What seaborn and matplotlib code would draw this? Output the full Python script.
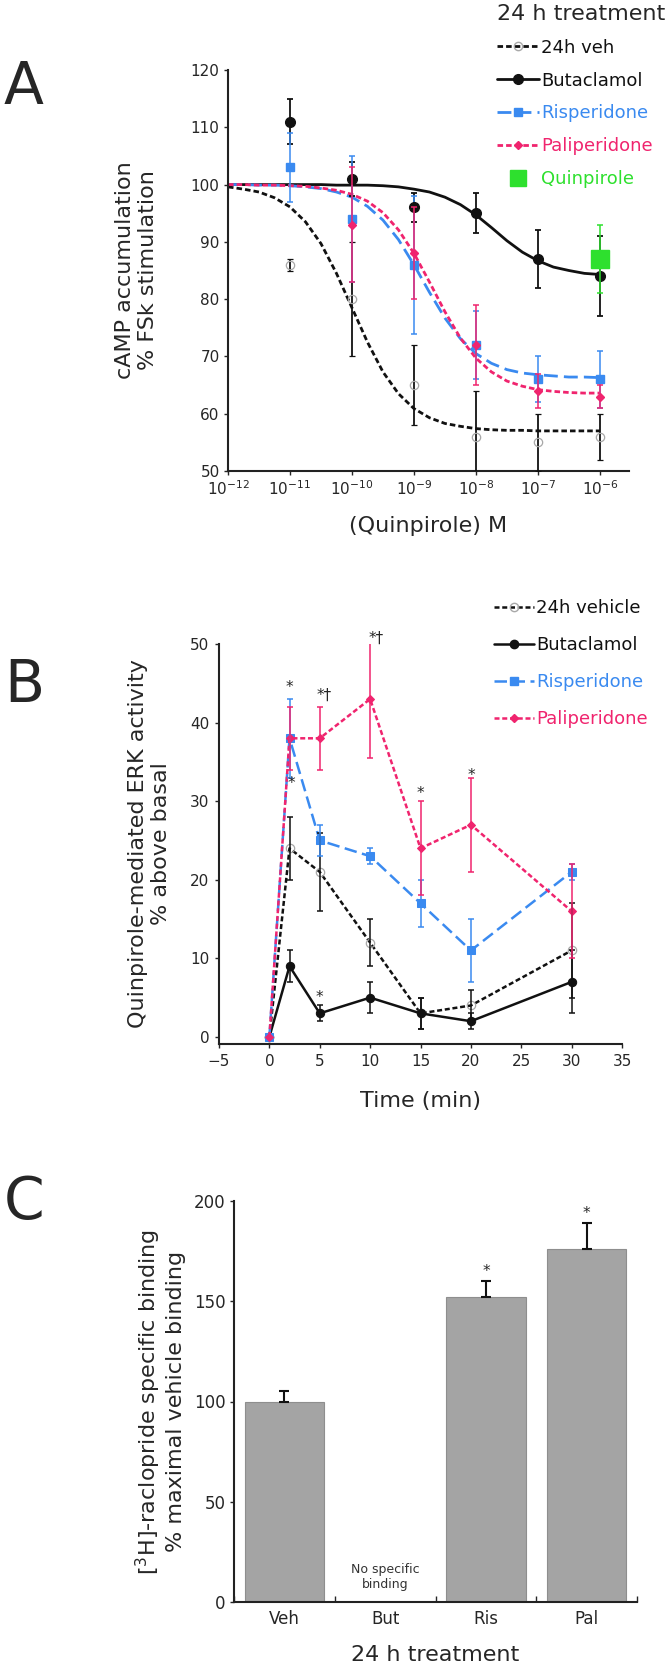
import numpy as np
import pandas as pd
import matplotlib
matplotlib.use("Agg")
import matplotlib.pyplot as plt
from matplotlib.lines import Line2D
from matplotlib.ticker import NullLocator
import seaborn as sns

# colours
BLACK = "#111111"
BLUE = "#3a8af0"
PINK = "#f0246e"
GREEN = "#2ee02e"
GREY_PT = "#a8a8a8"
BAR_GREY = "#a4a4a4"

# ---- Panel A: cAMP accumulation vs quinpirole (log10 M) ----
dose_log = [-11, -10, -9, -8, -7, -6]
veh_camp = [86, 80, 65, 56, 55, 56]
veh_camp_err = [1, 10, 7, 8, 5, 4]
but_camp = [111, 101, 96, 95, 87, 84]
but_camp_err = [4, 3, 2.5, 3.5, 5, 7]
ris_camp = [103, 94, 86, 72, 66, 66]
ris_camp_err = [6, 11, 12, 6, 4, 5]
pal_dose_log = [-10, -9, -8, -7, -6]
pal_camp = [93, 88, 72, 64, 63]
pal_camp_err = [10, 8, 7, 3, 2]
quin_dose_log = [-6]
quin_camp = [87]
quin_camp_err = [6]

# fitted curves, every quarter decade
fit_log = [-12, -11.75, -11.5, -11.25, -11, -10.75, -10.5, -10.25, -10,
           -9.75, -9.5, -9.25, -9, -8.75, -8.5, -8.25, -8, -7.75, -7.5,
           -7.25, -7, -6.75, -6.5, -6.25, -6]
veh_fit = [99.6, 99.2, 98.7, 97.7, 96.1, 93.5, 89.7, 84.5, 78.5, 72.5, 67.3,
           63.5, 60.9, 59.3, 58.3, 57.8, 57.4, 57.2, 57.1, 57.1, 57.0, 57.0,
           57.0, 57.0, 57.0]
but_fit = [100, 100, 100, 100, 100, 100, 100, 99.9, 99.9, 99.9, 99.8, 99.6,
           99.2, 98.7, 97.8, 96.5, 94.7, 92.5, 90.2, 88.2, 86.7, 85.6, 85.0,
           84.5, 84.3]
ris_fit = [100, 100, 99.9, 99.9, 99.8, 99.6, 99.3, 98.7, 97.8, 96.2, 93.8,
           90.4, 86.0, 81.2, 76.7, 73.1, 70.5, 68.8, 67.7, 67.1, 66.8, 66.6,
           66.4, 66.4, 66.3]
pal_fit = [100, 100, 99.9, 99.9, 99.8, 99.7, 99.4, 99.0, 98.3, 97.1, 95.1,
           92.1, 88.0, 83.0, 77.8, 73.2, 69.7, 67.3, 65.7, 64.8, 64.2, 63.9,
           63.7, 63.6, 63.6]

# ---- Panel B: ERK activity time course ----
time_min = [0, 2, 5, 10, 15, 20, 30]
veh_erk = [0, 24, 21, 12, 3, 4, 11]
veh_erk_err = [0, 4, 5, 3, 2, 2, 6]
but_erk = [0, 9, 3, 5, 3, 2, 7]
but_erk_err = [0, 2, 1, 2, 2, 1, 4]
ris_erk = [0, 38, 25, 23, 17, 11, 21]
ris_erk_err = [0, 5, 2, 1, 3, 4, 1]
pal_erk = [0, 38, 38, 43, 24, 27, 16]
pal_erk_err = [0, 4, 4, 7.5, 6, 6, 6]
erk_mark_x = [2, 5.4, 10.6, 15, 20, 2.2, 5]
erk_mark_y = [45, 44, 51.3, 31.6, 33.9, 32.8, 5.6]
erk_mark_txt = ["*", "*\u2020", "*\u2020", "*", "*", "*", "*"]

# ---- Panel C: raclopride binding ----
treatments = ["Veh", "But", "Ris", "Pal"]
binding = [100, 0, 152, 176]
binding_err = [5, 0, 8, 13]
binding_mark = ["", "", "*", "*"]

sns.set_style("ticks")
plt.rcParams["font.family"] = ["DejaVu Sans"]
plt.rcParams["axes.linewidth"] = 1.5
plt.rcParams["axes.edgecolor"] = "#222222"
plt.rcParams["mathtext.fontset"] = "dejavusans"

W, H = 670, 1668
fig = plt.figure(figsize=(W / 100, H / 100), dpi=100)


def box(left, top, right, bottom):
    return [left / W, 1 - bottom / H, (right - left) / W, (bottom - top) / H]


dash_short = (0, (2, 1.1))
dash_long = (0, (5, 2.2))

# Panel A
axA = fig.add_axes(box(228, 70, 629, 471))
axA.set_xscale("log")
fit_dose = 10.0 ** np.array(fit_log)
sns.lineplot(x=fit_dose, y=veh_fit, color=BLACK, lw=2, linestyle=dash_short, errorbar=None, ax=axA)
sns.lineplot(x=fit_dose, y=but_fit, color=BLACK, lw=2, errorbar=None, ax=axA)
sns.lineplot(x=fit_dose, y=ris_fit, color=BLUE, lw=2, linestyle=dash_long, errorbar=None, ax=axA)
sns.lineplot(x=fit_dose, y=pal_fit, color=PINK, lw=2, linestyle=dash_short, errorbar=None, ax=axA)

dose = 10.0 ** np.array(dose_log)
axA.errorbar(dose, veh_camp, yerr=veh_camp_err, fmt="o", ms=6, mfc="none", mec=GREY_PT,
             mew=0.9, ecolor=BLACK, elinewidth=1.3, capsize=2.5, capthick=1.3, zorder=4)
axA.errorbar(dose, but_camp, yerr=but_camp_err, fmt="o", ms=7, color=BLACK,
             elinewidth=1.3, capsize=2.5, capthick=1.3, zorder=5)
axA.errorbar(dose, ris_camp, yerr=ris_camp_err, fmt="s", ms=6, color=BLUE,
             elinewidth=1.1, capsize=2.5, capthick=1.1, zorder=5)
axA.errorbar(10.0 ** np.array(pal_dose_log), pal_camp, yerr=pal_camp_err, fmt="D", ms=4.5,
             color=PINK, elinewidth=1.1, capsize=2.5, capthick=1.1, zorder=6)
axA.errorbar(10.0 ** np.array(quin_dose_log), quin_camp, yerr=quin_camp_err, fmt="s", ms=13,
             color=GREEN, elinewidth=1.1, capsize=2.5, capthick=1.1, zorder=7)

axA.set_xlim(1e-12, 10 ** -5.53)
axA.set_ylim(50, 120)
axA.set_xticks([10.0 ** k for k in range(-12, -5)])
axA.set_xticklabels(["$10^{%d}$" % k for k in range(-12, -5)])
axA.xaxis.set_minor_locator(NullLocator())
axA.set_yticks(range(50, 121, 10))
axA.tick_params(labelsize=11, length=3, width=1, pad=3)
axA.set_xlabel("(Quinpirole) M", fontsize=16, labelpad=13)
axA.set_ylabel("cAMP accumulation\n% FSk stimulation", fontsize=16, linespacing=1.15)
axA.yaxis.set_label_coords(-0.175, 0.5)
sns.despine(ax=axA)

handlesA = [
    Line2D([], [], color=BLACK, lw=2, ls=dash_short, marker="o", ms=6, mfc="none", mec=GREY_PT),
    Line2D([], [], color=BLACK, lw=2, marker="o", ms=7),
    Line2D([], [], color=BLUE, lw=2, ls=dash_long, marker="s", ms=6),
    Line2D([], [], color=PINK, lw=2, ls=dash_short, marker="D", ms=4.5),
    Line2D([], [], ls="none", marker="s", ms=11, color=GREEN),
]
fig.legend(handlesA, ["24h veh", "Butaclamol", "Risperidone", "Paliperidone", "Quinpirole"],
           loc="upper left", bbox_to_anchor=(497 / W, 1 - 4 / H), frameon=False, fontsize=13,
           title="24 h treatment", title_fontsize=16, alignment="left", borderpad=0,
           borderaxespad=0, handlelength=2.3, handletextpad=0.15, labelspacing=0.82,
           labelcolor=[BLACK, BLACK, BLUE, PINK, GREEN])

# Panel B
axB = fig.add_axes(box(219, 644, 622, 1044))
sns.lineplot(x=time_min, y=veh_erk, color=BLACK, lw=1.8, linestyle=dash_short, marker="o",
             ms=6, mfc="none", mec=GREY_PT, mew=0.9, errorbar=None, ax=axB)
sns.lineplot(x=time_min, y=but_erk, color=BLACK, lw=1.8, marker="o", ms=6, mec=BLACK,
             errorbar=None, ax=axB)
sns.lineplot(x=time_min, y=ris_erk, color=BLUE, lw=1.8, linestyle=dash_long, marker="s",
             ms=5.5, mec=BLUE, errorbar=None, ax=axB)
sns.lineplot(x=time_min, y=pal_erk, color=PINK, lw=1.8, linestyle=dash_short, marker="D",
             ms=4.5, mec=PINK, errorbar=None, ax=axB)
for vals, errs, col in [(veh_erk, veh_erk_err, BLACK), (but_erk, but_erk_err, BLACK),
                        (ris_erk, ris_erk_err, BLUE), (pal_erk, pal_erk_err, PINK)]:
    axB.errorbar(time_min, vals, yerr=errs, fmt="none", ecolor=col, elinewidth=1.1,
                 capsize=2.5, capthick=1.1)
for x, y, t in zip(erk_mark_x, erk_mark_y, erk_mark_txt):
    axB.text(x, y - 1.15, t, fontsize=11, ha="center", va="baseline")

axB.set_xlim(-5, 35)
axB.set_ylim(-0.9, 50)
axB.set_xticks(range(-5, 36, 5))
axB.set_yticks(range(0, 51, 10))
axB.tick_params(labelsize=11, length=3, width=1, pad=4)
axB.set_xlabel("Time (min)", fontsize=16, labelpad=16)
axB.set_ylabel("Quinpirole-mediated ERK activity\n% above basal", fontsize=16, linespacing=1.15)
axB.yaxis.set_label_coords(-0.12, 0.5)
sns.despine(ax=axB)

handlesB = [
    Line2D([], [], color=BLACK, lw=1.8, ls=dash_short, marker="o", ms=6, mfc="none", mec=GREY_PT),
    Line2D([], [], color=BLACK, lw=1.8, marker="o", ms=6),
    Line2D([], [], color=BLUE, lw=1.8, ls=dash_long, marker="s", ms=5.5),
    Line2D([], [], color=PINK, lw=1.8, ls=dash_short, marker="D", ms=4.5),
]
fig.legend(handlesB, ["24h vehicle", "Butaclamol", "Risperidone", "Paliperidone"],
           loc="upper left", bbox_to_anchor=(494 / W, 1 - 599 / H), frameon=False, fontsize=13,
           borderpad=0, borderaxespad=0, handlelength=2.2, handletextpad=0.12,
           labelspacing=1.05, labelcolor=[BLACK, BLACK, BLUE, PINK])

# Panel C
axC = fig.add_axes(box(234, 1201, 637, 1602))
sns.barplot(x=treatments, y=binding, color=BAR_GREY, saturation=1, width=0.79,
            edgecolor="#8e8e8e", linewidth=0.8, errorbar=None, ax=axC)
idx = [i for i, e in enumerate(binding_err) if e > 0]
axC.errorbar(idx, [binding[i] for i in idx], yerr=[[0] * len(idx), [binding_err[i] for i in idx]],
             fmt="none", ecolor=BLACK, elinewidth=1.5, capsize=3.5, capthick=1.5)
for i, t in enumerate(binding_mark):
    if t:
        axC.text(i, binding[i] + binding_err[i] + 2.5, t, fontsize=11, ha="center", va="baseline")
axC.text(1, 12.5, "No specific\nbinding", fontsize=9, ha="center", va="center",
         color="#333333", linespacing=1.25)
axC.set_xlim(-0.5, 3.5)
axC.set_ylim(0, 200)
axC.set_yticks(range(0, 201, 50))
axC.set_xticks([-0.5, 0.5, 1.5, 2.5, 3.5], minor=True)
axC.tick_params(axis="x", which="major", length=0, labelsize=12, pad=6)
axC.tick_params(axis="x", which="minor", direction="in", length=4, width=1)
axC.tick_params(axis="y", labelsize=12, length=3, width=1, pad=3)
axC.set_xlabel("24 h treatment", fontsize=16, labelpad=12)
axC.set_ylabel("[$^{3}$H]-raclopride specific binding\n% maximal vehicle binding",
               fontsize=16, linespacing=1.15)
axC.yaxis.set_label_coords(-0.12, 0.5)
sns.despine(ax=axC)

# panel letters
for letter, yc in [("A", 88), ("B", 685), ("C", 1202)]:
    fig.text(4 / W, 1 - yc / H, letter, fontsize=42, ha="left", va="center")

fig.savefig("out.png", dpi=100)
